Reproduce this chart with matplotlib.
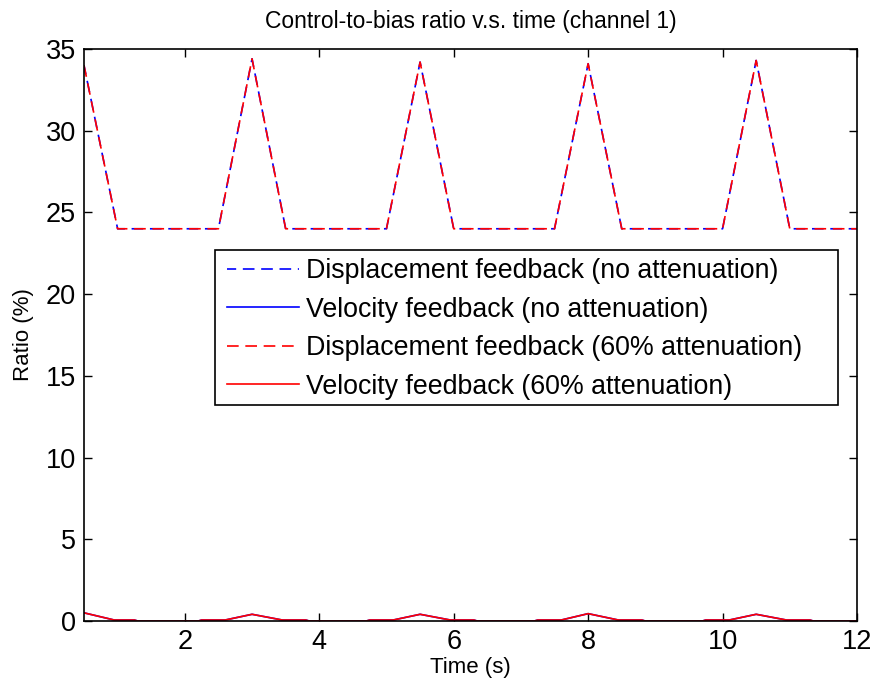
import numpy as np
import matplotlib
matplotlib.use("Agg")
import matplotlib.pyplot as plt
from matplotlib.patches import Rectangle

plt.rcParams['font.family'] = ['Liberation Sans', 'DejaVu Sans']

# displacement feedback ratio (%) - same for both attenuation cases
t_disp = [0.5, 1.0, 2.5, 3.0, 3.5, 5.0, 5.5, 6.0, 7.5, 8.0, 8.5, 10.0, 10.5, 11.0, 12.0]
disp = [34.0, 24.0, 24.0, 34.4, 24.0, 24.0, 34.2, 24.0, 24.0, 34.1, 24.0, 24.0, 34.3, 24.0, 24.0]

# velocity feedback ratio (%)
t_vel = [0.5, 0.95, 1.25, 1.3, 2.2, 2.25, 2.6, 3.0, 3.45, 3.8, 3.85, 4.7, 4.75, 5.1, 5.5,
         5.95, 6.3, 6.35, 7.2, 7.25, 7.6, 8.0, 8.45, 8.8, 8.85, 9.7, 9.75, 10.1, 10.5,
         10.95, 11.3, 11.35, 12.0]
vel = [0.5, 0.06, 0.06, 0.0, 0.0, 0.06, 0.06, 0.41, 0.06, 0.06, 0.0, 0.0, 0.06, 0.06, 0.41,
       0.06, 0.06, 0.0, 0.0, 0.06, 0.06, 0.45, 0.06, 0.06, 0.0, 0.0, 0.06, 0.06, 0.41,
       0.06, 0.06, 0.0, 0.0]

labels = ['Displacement feedback (no attenuation)',
          'Velocity feedback (no attenuation)',
          'Displacement feedback (60% attenuation)',
          'Velocity feedback (60% attenuation)']

W, H = 878, 691
fig = plt.figure(figsize=(W/100, H/100), dpi=100)
ax = fig.add_axes([84/W, 1 - 621/H, (857-84)/W, (621-49)/H])

ax.plot(t_disp, disp, color='blue', lw=1.2, ls=(1.5, (7, 4)), label=labels[0])
ax.plot(t_vel, vel, color='blue', lw=1.2, ls='-', label=labels[1])
ax.plot(t_disp, disp, color='red', lw=1.2, ls=(0, (7, 4)), label=labels[2])
ax.plot(t_vel, vel, color='red', lw=1.2, ls='-', label=labels[3])

ax.set_xlim(0.5, 12)
ax.set_ylim(0, 35)
ax.set_xticks([2, 4, 6, 8, 10, 12])
ax.set_yticks(np.arange(0, 36, 5))
ax.tick_params(direction='in', top=True, right=True, length=6, width=1,
               labelsize=19.5, pad=6)
for s in ax.spines.values():
    s.set_linewidth(1.2)
    s.set_zorder(3)

ax.set_title('Control-to-bias ratio v.s. time (channel 1)', fontsize=16.5, pad=15)
ax.set_xlabel('Time (s)', fontsize=16, labelpad=1)
ax.set_ylabel('Ratio (%)', fontsize=16, labelpad=8)

# legend box in pixel terms, converted to axes fractions
def ax_frac(px, py):
    return (px - 84) / (857 - 84), (621 - py) / (621 - 49)

bx0, by0 = ax_frac(215, 405)
bx1, by1 = ax_frac(838, 250)
box = Rectangle((bx0, by0), bx1 - bx0, by1 - by0, transform=ax.transAxes,
                facecolor='white', edgecolor='black', lw=1.2, zorder=4)
ax.add_patch(box)

leg = ax.legend(loc='upper left', bbox_to_anchor=ax_frac(219, 250),
                fontsize=19.3, handlelength=2.7, labelspacing=0.47, borderpad=0.3,
                handletextpad=0.25, frameon=False, borderaxespad=0)
leg.set_zorder(5)

fig.savefig('out.png', dpi=100)
